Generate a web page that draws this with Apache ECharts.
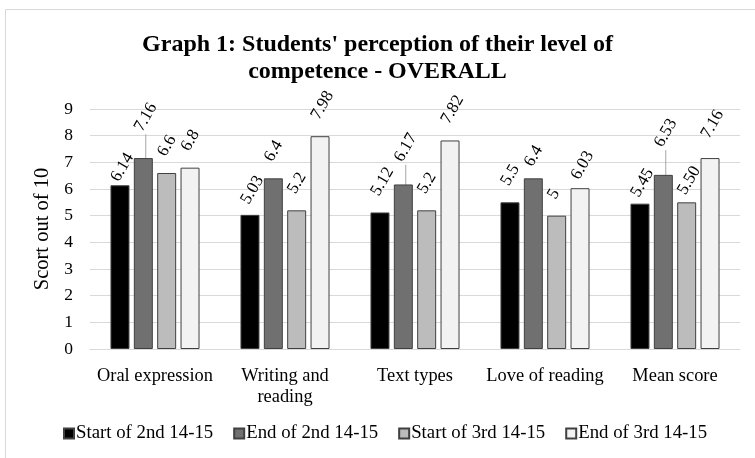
<!DOCTYPE html>
<html><head><meta charset="utf-8">
<script src="https://cdn.jsdelivr.net/npm/echarts@6/dist/echarts.min.js"></script>
<style>html,body{margin:0;padding:0;background:#fff}#c{width:755px;height:458px}</style>
</head><body><div id="c"></div>
<script>
const categories = ['Oral expression', 'Writing and\nreading', 'Text types', 'Love of reading', 'Mean score'];
const seriesNames = ['Start of 2nd 14-15', 'End of 2nd 14-15', 'Start of 3rd 14-15', 'End of 3rd 14-15'];
const start2 = [6.14, 5.03, 5.12, 5.5, 5.45];
const end2 = [7.16, 6.4, 6.17, 6.4, 6.53];
const start3 = [6.6, 5.2, 5.2, 5, 5.5];
const end3 = [6.8, 7.98, 7.82, 6.03, 7.16];
const start2Labels = ['6.14', '5.03', '5.12', '5.5', '5.45'];
const end2Labels = ['7.16', '6.4', '6.17', '6.4', '6.53'];
const start3Labels = ['6.6', '5.2', '5.2', '5', '5.50'];
const end3Labels = ['6.8', '7.98', '7.82', '6.03', '7.16'];
const yTicks = [0, 1, 2, 3, 4, 5, 6, 7, 8, 9];

const font = 'Liberation Serif, Times New Roman, serif';
const colors = ['#000000', '#707070', '#bcbcbc', '#f2f2f2'];
const values = [start2, end2, start3, end3];
const labels = [start2Labels, end2Labels, start3Labels, end3Labels];
// vertical label nudges in screen px (negative = up), keyed "series_index"
const nudges = {'0_0': 13, '0_1': 6, '0_4': 10, '1_0': -10, '1_2': -6, '1_3': 5, '1_4': -11, '2_4': 9, '3_3': 8, '3_4': -3};
const withLine = {'1_0': 1, '1_2': 1, '1_4': 1};
const ROT = 60;
const SHIFT_X = -5;

const chart = echarts.init(document.getElementById('c'));
chart.setOption({
  animation: false,
  textStyle: {fontFamily: font},
  graphic: [{type: 'rect', shape: {x: 5.5, y: 9.5, width: 800, height: 500}, style: {fill: 'none', stroke: '#d9d9d9', lineWidth: 1}}],
  title: {
    text: "Graph 1: Students' perception of their level of\ncompetence - OVERALL",
    left: 'center', top: 26,
    textStyle: {fontFamily: font, fontSize: 24, fontWeight: 'bold', color: '#000', lineHeight: 27}
  },
  legend: {
    top: 424, left: 63, padding: 0, itemWidth: 10, itemHeight: 10, itemGap: 20,
    icon: 'rect',
    textStyle: {fontFamily: font, fontSize: 18.8, color: '#000', padding: [0, 0, 0, -3]},
    data: seriesNames
  },
  grid: {left: 90, right: 15, top: 109, bottom: 109},
  xAxis: {
    type: 'category', data: categories,
    axisLine: {lineStyle: {color: '#d9d9d9'}},
    axisTick: {show: false},
    axisLabel: {fontFamily: font, fontSize: 18.4, color: '#000', margin: 17, lineHeight: 21, interval: 0}
  },
  yAxis: {
    type: 'value', min: 0, max: 9, interval: 1,
    name: 'Scort out of 10', nameLocation: 'middle', nameGap: 25,
    nameTextStyle: {fontFamily: font, fontSize: 20.5, color: '#000'},
    axisLine: {show: false}, axisTick: {show: false},
    axisLabel: {fontFamily: font, fontSize: 17.5, color: '#000', margin: 17,
      formatter: v => yTicks.includes(v) ? String(v) : ''},
    splitLine: {lineStyle: {color: '#d9d9d9'}}
  },
  series: seriesNames.map((name, si) => ({
    name, type: 'bar',
    data: values[si].map((v, i) => ({value: v, labelLine: {show: !!withLine[si + '_' + i]}})),
    barGap: '23%', barCategoryGap: '31.5%',
    itemStyle: {color: colors[si], borderColor: '#404040', borderWidth: 1},
    label: {
      show: true, position: 'top', rotate: ROT, align: 'left', verticalAlign: 'middle',
      distance: 18, offset: [-7, 0],
      fontFamily: font, fontSize: 17, color: '#000',
      formatter: p => labels[si][p.dataIndex]
    },
    labelLine: {lineStyle: {color: '#a6a6a6', width: 1}},
    labelLayout: p => {
      const sy = nudges[si + '_' + p.dataIndex] || 0;
      const sx = SHIFT_X;
      // dx/dy act in the label's rotated frame; convert a screen move (sx, sy)
      const t = ROT * Math.PI / 180;
      return {dx: Math.cos(t) * sx - Math.sin(t) * sy, dy: Math.sin(t) * sx + Math.cos(t) * sy};
    }
  }))
});
</script></body></html>
